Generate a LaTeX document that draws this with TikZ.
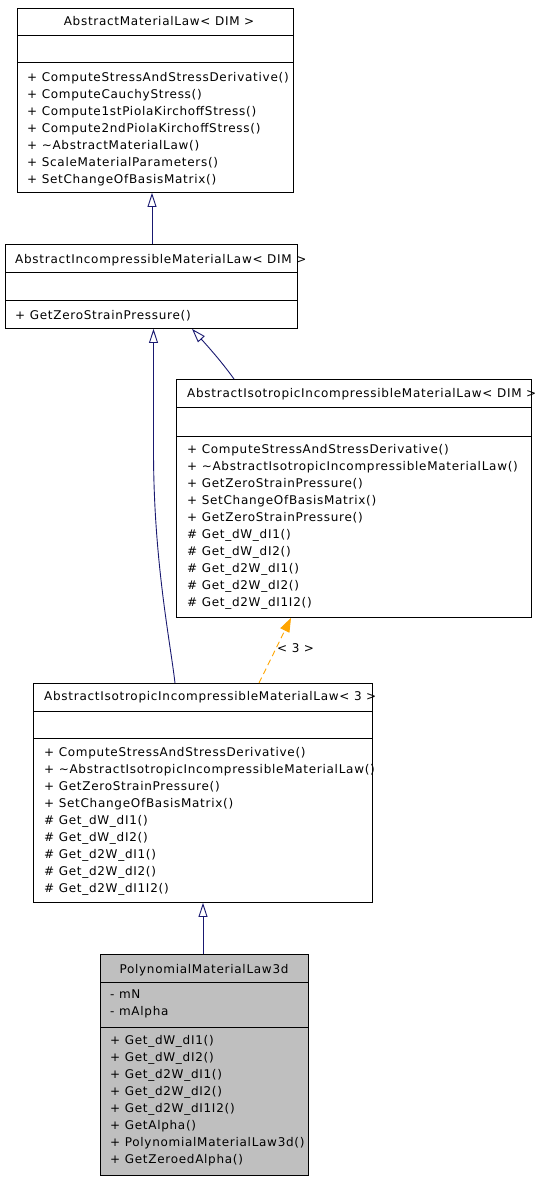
\documentclass[tikz,border=0pt]{standalone}
\usepackage{fontspec}
\setmainfont{DejaVu Sans}[LetterSpace=6]
\usetikzlibrary{arrows.meta,calc}
\definecolor{edgeblue}{HTML}{191970}
\definecolor{edgeorange}{HTML}{FFA500}
\definecolor{boxgray}{HTML}{BFBFBF}
\begin{document}
\begin{tikzpicture}[x=1pt,y=-1pt,
  font=\fontsize{12}{17}\selectfont,
  classbox/.style={draw=black, line width=0.9pt, anchor=north west, inner sep=0pt},
  sepline/.style={draw=black, line width=0.9pt},
  txt/.style={anchor=base west, inner sep=0pt},
  ctxt/.style={anchor=base, inner sep=0pt},
  inherit/.style={draw=edgeblue, line width=0.9pt, -{Triangle[open, length=14pt, width=9pt]}},
  templ/.style={draw=edgeorange, line width=0.9pt, dash pattern=on 6pt off 4pt, -{Triangle[length=14pt, width=10pt, fill=edgeorange]}},
]
\useasboundingbox (0,0) rectangle (536,1179);

% ---- Box 1: AbstractMaterialLaw< DIM >
\node[classbox, minimum width=276pt, minimum height=184pt] (b1) at (17,8) {};
\draw[sepline] (17,35) -- (293,35);
\draw[sepline] (17,62) -- (293,62);
\node[ctxt] (b1t) at (159,25) {AbstractMaterialLaw< DIM >};
\foreach [count=\i] \t in {{+ ComputeStressAndStressDerivative()},{+ ComputeCauchyStress()},{+ Compute1stPiolaKirchoffStress()},{+ Compute2ndPiolaKirchoffStress()},{+ \textasciitilde AbstractMaterialLaw()},{+ ScaleMaterialParameters()},{+ SetChangeOfBasisMatrix()}}
  \node[txt, name=b1m\i] at (27,{81+17*(\i-1)}) {\t};

% ---- Box 2: AbstractIncompressibleMaterialLaw< DIM >
\node[classbox, minimum width=292pt, minimum height=84pt] (b2) at (5,244) {};
\draw[sepline] (5,272) -- (297,272);
\draw[sepline] (5,300) -- (297,300);
\node[txt] (b2t) at (15,263) {AbstractIncompressibleMaterialLaw< DIM >};
\node[txt] (b2m1) at (15,319) {+ GetZeroStrainPressure()};

% ---- Box 3: AbstractIsotropicIncompressibleMaterialLaw< DIM >
\node[classbox, minimum width=355pt, minimum height=238pt] (b3) at (176,379) {};
\draw[sepline] (176,407) -- (531,407);
\draw[sepline] (176,436) -- (531,436);
\node[txt] (b3t) at (187,397) {AbstractIsotropicIncompressibleMaterialLaw< DIM >};
\foreach [count=\i] \t in {{+ ComputeStressAndStressDerivative()},{+ \textasciitilde AbstractIsotropicIncompressibleMaterialLaw()},{+ GetZeroStrainPressure()},{+ SetChangeOfBasisMatrix()},{+ GetZeroStrainPressure()},{\# Get\_dW\_dI1()},{\# Get\_dW\_dI2()},{\# Get\_d2W\_dI1()},{\# Get\_d2W\_dI2()},{\# Get\_d2W\_dI1I2()}}
  \node[txt, name=b3m\i] at (187,{453+17*(\i-1)}) {\t};

% ---- Box 4: AbstractIsotropicIncompressibleMaterialLaw< 3 >
\node[classbox, minimum width=339pt, minimum height=219pt] (b4) at (33,683) {};
\draw[sepline] (33,711) -- (372,711);
\draw[sepline] (33,738) -- (372,738);
\node[txt] (b4t) at (44,700) {AbstractIsotropicIncompressibleMaterialLaw< 3 >};
\foreach [count=\i] \t in {{+ ComputeStressAndStressDerivative()},{+ \textasciitilde AbstractIsotropicIncompressibleMaterialLaw()},{+ GetZeroStrainPressure()},{+ SetChangeOfBasisMatrix()},{\# Get\_dW\_dI1()},{\# Get\_dW\_dI2()},{\# Get\_d2W\_dI1()},{\# Get\_d2W\_dI2()},{\# Get\_d2W\_dI1I2()}}
  \node[txt, name=b4m\i] at (44,{756+17*(\i-1)}) {\t};

% ---- Box 5: PolynomialMaterialLaw3d
\node[classbox, fill=boxgray, minimum width=208pt, minimum height=221pt] (b5) at (100,954) {};
\draw[sepline] (100,982) -- (308,982);
\draw[sepline] (100,1027) -- (308,1027);
\node[ctxt] (b5t) at (204,973) {PolynomialMaterialLaw3d};
\node[txt] (b5a1) at (110,998) {- mN};
\node[txt] (b5a2) at (110,1015) {- mAlpha};
\foreach [count=\i] \t in {{+ Get\_dW\_dI1()},{+ Get\_dW\_dI2()},{+ Get\_d2W\_dI1()},{+ Get\_d2W\_dI2()},{+ Get\_d2W\_dI1I2()},{+ GetAlpha()},{+ PolynomialMaterialLaw3d()},{+ GetZeroedAlpha()}}
  \node[txt, name=b5m\i] at (110,{1044+17*(\i-1)}) {\t};

% ---- Connectors
\coordinate (c12) at (152,0);
\draw[inherit] (c12 |- b2.north) -- (c12 |- b1.south);

\coordinate (c32a) at (234,0);
\coordinate (c32b) at (192,0);
\draw[inherit] (c32a |- b3.north) .. controls ($(c32a |- b3.north)+(-10,-14)$) and ($(c32b |- b2.south)+(20,22)$) .. (c32b |- b2.south);

\coordinate (c42a) at (175,0);
\coordinate (c42b) at (153.5,0);
\draw[inherit] (c42a |- b4.north) .. controls (170,640) and (153.5,560) .. (153.5,450) -- (c42b |- b2.south);

\coordinate (c43a) at (259,0);
\coordinate (c43b) at (291,0);
\draw[templ] (c43a |- b4.north) -- (c43b |- b3.south);
\node[txt] (l43) at (277,652) {< 3 >};

\coordinate (c54) at (203,0);
\draw[inherit] (c54 |- b5.north) -- (c54 |- b4.south);
\end{tikzpicture}
\end{document}
